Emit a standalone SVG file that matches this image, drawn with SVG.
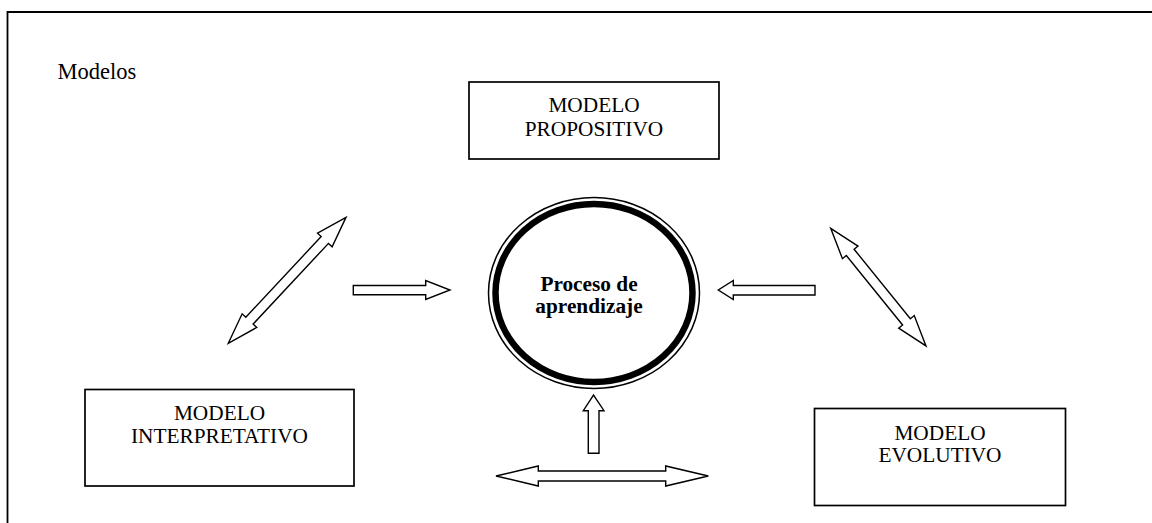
<svg xmlns="http://www.w3.org/2000/svg" width="1152" height="523" viewBox="0 0 1152 523">
<style>
.box{fill:#fff;stroke:#000;stroke-width:1.7}
.arr{fill:#fff;stroke:#000;stroke-width:1.4;stroke-linejoin:miter}
.t{font-family:"Liberation Serif","Times New Roman",serif;font-size:21.3px;fill:#000;text-anchor:middle}
.b{font-weight:bold}
</style>
<rect width="1152" height="523" fill="#fff"/>
<path d="M7.5 523 V12 H1152" fill="none" stroke="#000" stroke-width="1.8"/>
<text x="57.5" y="79" font-family="Liberation Serif, Times New Roman, serif" font-size="22.5">Modelos</text>
<g id="propositivo">
<rect class="box" x="469" y="82" width="250" height="77"/>
<text class="t" x="594" y="112">MODELO</text>
<text class="t" x="594" y="135.5">PROPOSITIVO</text>
</g>
<g id="proceso">
<ellipse cx="594" cy="293" rx="105.5" ry="95.5" fill="#fff" stroke="#000" stroke-width="1.5"/>
<ellipse cx="594" cy="293" rx="98.5" ry="89" fill="none" stroke="#000" stroke-width="6.5"/>
<text class="t b" x="589" y="290.5">Proceso de</text>
<text class="t b" x="589" y="312.5">aprendizaje</text>
</g>
<g id="interpretativo">
<rect class="box" x="85" y="389.5" width="269" height="96.5"/>
<text class="t" x="219.5" y="420">MODELO</text>
<text class="t" x="219.5" y="442.5">INTERPRETATIVO</text>
</g>
<g id="evolutivo">
<rect class="box" x="814.5" y="408.5" width="251" height="97"/>
<text class="t" x="940" y="439.5">MODELO</text>
<text class="t" x="940" y="462">EVOLUTIVO</text>
</g>
<g id="connectors">
<path class="arr" transform="translate(228.3,343.3) rotate(-46.95)" d="M0 0 L31 -10 L31 -5 L141.4 -5 L141.4 -10 L172.4 0 L141.4 10 L141.4 5 L31 5 L31 10 Z"/>
<path class="arr" transform="translate(830.7,228.3) rotate(51)" d="M0 0 L31 -10 L31 -5 L120.4 -5 L120.4 -10 L151.4 0 L120.4 10 L120.4 5 L31 5 L31 10 Z"/>
<path class="arr" d="M353.3 285.5 H425.7 V280.5 L450 290 L425.7 299.5 V294.8 H353.3 Z"/>
<path class="arr" d="M815 285.5 H733.3 V280.5 L718.3 290 L733.3 299.5 V295 H815 Z"/>
<path class="arr" d="M588.3 453.3 V410.7 H583.3 L593.5 395 L604 410.7 H599 V453.3 Z"/>
<path class="arr" d="M496 476 L538.3 466 V471 H665.7 V466 L708.3 476 L665.7 486 V481 H538.3 V486 Z"/>
</g>
</svg>
